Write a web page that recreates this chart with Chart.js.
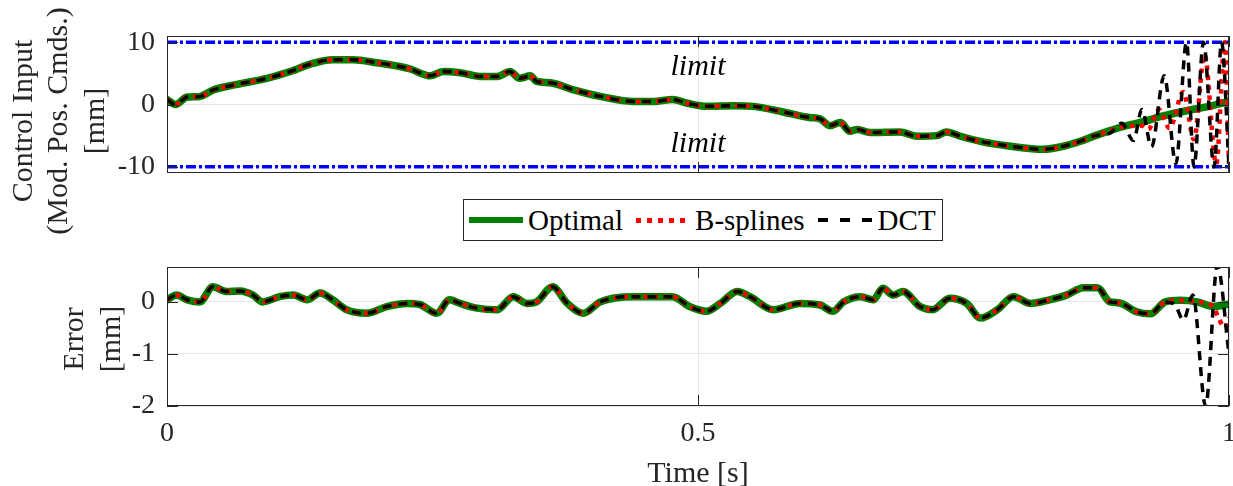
<!DOCTYPE html>
<html>
<head>
<meta charset="utf-8">
<script src="https://cdn.jsdelivr.net/npm/chart.js@4"></script>
<style>
body { margin: 0; background: #fff; width: 1233px; height: 486px; overflow: hidden; position: relative; font-family: "Liberation Serif", "Times New Roman", serif; }
canvas { position: absolute; left: 0; }
#topChart { top: 0; }
#errChart { top: 250px; }
#legend { position: absolute; left: 463px; top: 199px; width: 478px; height: 40px; border: 1px solid #262626; background: #fff; display: flex; align-items: center; font-size: 29px; color: #000; white-space: nowrap; }
.sw { height: 4px; flex: none; }
</style>
</head>
<body>
<canvas id="topChart" width="1233" height="250"></canvas>
<canvas id="errChart" width="1233" height="236"></canvas>
<div id="legend">
  <span class="sw" style="width:54px;height:6px;margin-left:5px;margin-right:5px;background:#008000"></span><span>Optimal</span>
  <span class="sw" style="width:50px;height:5px;margin-left:13px;margin-right:9px;background:repeating-linear-gradient(90deg,#ff0000 0 5px,transparent 5px 11px)"></span><span>B-splines</span>
  <span class="sw" style="width:55px;margin-left:13px;margin-right:5px;background:repeating-linear-gradient(90deg,#000 0 10px,transparent 10px 22px)"></span><span>DCT</span>
</div>
<script>
// axis ticks
const timeTicks = [0, 0.5, 1];
const topTicks = [-10, 0, 10];
const errTicks = [-2, -1, 0];

// actuator limits
const limitTime = [0, 1];
const upperLimit = [10, 10];
const lowerLimit = [-10, -10];

// control input [mm] - optimal
const tOpt = [0, 0.008, 0.019, 0.031, 0.043, 0.062, 0.094, 0.116, 0.137, 0.156, 0.175, 0.198, 0.219, 0.229, 0.248, 0.260, 0.276, 0.295, 0.311, 0.323, 0.332, 0.342, 0.348, 0.361, 0.382, 0.408, 0.439, 0.458, 0.476, 0.490, 0.508, 0.533, 0.552, 0.580, 0.605, 0.615, 0.624, 0.634, 0.643, 0.650, 0.662, 0.690, 0.706, 0.725, 0.734, 0.747, 0.768, 0.794, 0.825, 0.844, 0.860, 0.874, 0.888, 0.899, 0.918, 0.939, 0.960, 0.981, 1.000];
const uOpt = [0.8, 0.0, 1.2, 1.3, 2.3, 3.1, 4.2, 5.3, 6.6, 7.2, 7.2, 6.7, 6.1, 5.7, 4.6, 5.3, 5.1, 4.5, 4.5, 5.3, 4.2, 4.6, 3.7, 3.5, 2.4, 1.3, 0.5, 0.5, 0.8, 0.2, -0.3, -0.2, -0.3, -1.2, -2.1, -2.3, -3.4, -2.9, -4.3, -4.0, -4.5, -4.4, -5.1, -5.0, -4.4, -5.1, -6.0, -6.7, -7.2, -6.7, -5.9, -5.0, -4.2, -3.6, -2.8, -1.8, -1.0, -0.3, 0.5];

// control input - B-splines
const tBsp = [0, 0.008, 0.019, 0.031, 0.043, 0.062, 0.094, 0.116, 0.137, 0.156, 0.175, 0.198, 0.219, 0.229, 0.248, 0.260, 0.276, 0.295, 0.311, 0.323, 0.332, 0.342, 0.348, 0.361, 0.382, 0.408, 0.439, 0.458, 0.476, 0.490, 0.508, 0.533, 0.552, 0.580, 0.605, 0.615, 0.624, 0.634, 0.643, 0.650, 0.662, 0.690, 0.706, 0.725, 0.734, 0.747, 0.768, 0.794, 0.825, 0.844, 0.860, 0.874, 0.888, 0.899, 0.918, 0.924, 0.934, 0.944, 0.957, 0.967, 0.977, 0.988, 0.996, 1.000];
const uBsp = [0.8, 0.0, 1.2, 1.3, 2.3, 3.1, 4.2, 5.3, 6.6, 7.2, 7.2, 6.7, 6.1, 5.7, 4.6, 5.3, 5.1, 4.5, 4.5, 5.3, 4.2, 4.6, 3.7, 3.5, 2.4, 1.3, 0.5, 0.5, 0.8, 0.2, -0.3, -0.2, -0.3, -1.2, -2.1, -2.3, -3.4, -2.9, -4.3, -4.0, -4.5, -4.4, -5.1, -5.0, -4.4, -5.1, -6.0, -6.7, -7.2, -6.7, -5.9, -5.0, -4.2, -3.6, -3.4, -4.0, -0.8, -3.8, 2.0, -5.6, 8.0, -9.6, 10.0, -9.5];

// control input - DCT
const tDct = [0, 0.008, 0.019, 0.031, 0.043, 0.062, 0.094, 0.116, 0.137, 0.156, 0.175, 0.198, 0.219, 0.229, 0.248, 0.260, 0.276, 0.295, 0.311, 0.323, 0.332, 0.342, 0.348, 0.361, 0.382, 0.408, 0.439, 0.458, 0.476, 0.490, 0.508, 0.533, 0.552, 0.580, 0.605, 0.615, 0.624, 0.634, 0.643, 0.650, 0.662, 0.690, 0.706, 0.725, 0.734, 0.747, 0.768, 0.794, 0.825, 0.844, 0.860, 0.874, 0.888, 0.899, 0.910, 0.918, 0.927, 0.939, 0.950, 0.960, 0.967, 0.976, 0.986, 0.993, 1.000];
const uDct = [0.8, 0.0, 1.2, 1.3, 2.3, 3.1, 4.2, 5.3, 6.6, 7.2, 7.2, 6.7, 6.1, 5.7, 4.6, 5.3, 5.1, 4.5, 4.5, 5.3, 4.2, 4.6, 3.7, 3.5, 2.4, 1.3, 0.5, 0.5, 0.8, 0.2, -0.3, -0.2, -0.3, -1.2, -2.1, -2.3, -3.4, -2.9, -4.3, -4.0, -4.5, -4.4, -5.1, -5.0, -4.4, -5.1, -6.0, -6.7, -7.2, -6.7, -5.9, -5.0, -4.6, -3.0, -5.8, -0.8, -6.8, 4.6, -9.5, 10.0, -10.0, 10.0, -10.0, 10.0, -10.0];

// error [mm] - optimal
const tErrOpt = [0, 0.009, 0.019, 0.031, 0.043, 0.056, 0.069, 0.081, 0.090, 0.106, 0.119, 0.132, 0.144, 0.156, 0.169, 0.188, 0.207, 0.226, 0.238, 0.254, 0.266, 0.276, 0.292, 0.311, 0.326, 0.339, 0.348, 0.363, 0.377, 0.392, 0.408, 0.439, 0.455, 0.476, 0.492, 0.508, 0.521, 0.537, 0.549, 0.571, 0.596, 0.615, 0.627, 0.637, 0.653, 0.665, 0.674, 0.684, 0.693, 0.709, 0.721, 0.737, 0.753, 0.766, 0.782, 0.797, 0.813, 0.831, 0.847, 0.863, 0.876, 0.888, 0.897, 0.913, 0.926, 0.940, 0.954, 0.970, 0.985, 1.000];
const eOpt = [0.04, 0.13, 0.04, 0.0, 0.29, 0.2, 0.21, 0.13, 0.0, 0.1, 0.13, 0.04, 0.17, 0.04, -0.15, -0.22, -0.09, -0.03, -0.05, -0.22, 0.04, -0.03, -0.12, -0.15, 0.1, -0.03, 0.0, 0.29, -0.03, -0.22, 0.0, 0.1, 0.1, 0.1, -0.09, -0.18, -0.03, 0.2, 0.1, -0.15, -0.03, -0.06, -0.18, 0.0, 0.1, 0.04, 0.26, 0.13, 0.2, -0.09, -0.15, 0.07, -0.03, -0.31, -0.15, 0.1, -0.03, 0.04, 0.13, 0.27, 0.27, 0.0, -0.02, -0.19, -0.23, 0.0, 0.03, 0.0, -0.09, -0.04];

// error - B-splines
const tErrBsp = [0, 0.009, 0.019, 0.031, 0.043, 0.056, 0.069, 0.081, 0.090, 0.106, 0.119, 0.132, 0.144, 0.156, 0.169, 0.188, 0.207, 0.226, 0.238, 0.254, 0.266, 0.276, 0.292, 0.311, 0.326, 0.339, 0.348, 0.363, 0.377, 0.392, 0.408, 0.439, 0.455, 0.476, 0.492, 0.508, 0.521, 0.537, 0.549, 0.571, 0.596, 0.615, 0.627, 0.637, 0.653, 0.665, 0.674, 0.684, 0.693, 0.709, 0.721, 0.737, 0.753, 0.766, 0.782, 0.797, 0.813, 0.831, 0.847, 0.863, 0.876, 0.888, 0.897, 0.913, 0.926, 0.940, 0.954, 0.970, 0.985, 0.990, 0.996, 1.000];
const eBsp = [0.04, 0.13, 0.04, 0.0, 0.29, 0.2, 0.21, 0.13, 0.0, 0.1, 0.13, 0.04, 0.17, 0.04, -0.15, -0.22, -0.09, -0.03, -0.05, -0.22, 0.04, -0.03, -0.12, -0.15, 0.1, -0.03, 0.0, 0.29, -0.03, -0.22, 0.0, 0.1, 0.1, 0.1, -0.09, -0.18, -0.03, 0.2, 0.1, -0.15, -0.03, -0.06, -0.18, 0.0, 0.1, 0.04, 0.26, 0.13, 0.2, -0.09, -0.15, 0.07, -0.03, -0.31, -0.15, 0.1, -0.03, 0.04, 0.13, 0.27, 0.27, 0.0, -0.02, -0.19, -0.23, 0.0, 0.03, 0.0, -0.09, -0.3, -0.5, -0.3];

// error - DCT
const tErrDct = [0, 0.009, 0.019, 0.031, 0.043, 0.056, 0.069, 0.081, 0.090, 0.106, 0.119, 0.132, 0.144, 0.156, 0.169, 0.188, 0.207, 0.226, 0.238, 0.254, 0.266, 0.276, 0.292, 0.311, 0.326, 0.339, 0.348, 0.363, 0.377, 0.392, 0.408, 0.439, 0.455, 0.476, 0.492, 0.508, 0.521, 0.537, 0.549, 0.571, 0.596, 0.615, 0.627, 0.637, 0.653, 0.665, 0.674, 0.684, 0.693, 0.709, 0.721, 0.737, 0.753, 0.766, 0.782, 0.797, 0.813, 0.831, 0.847, 0.863, 0.876, 0.888, 0.897, 0.913, 0.926, 0.940, 0.949, 0.957, 0.966, 0.978, 0.989, 1.000];
const eDct = [0.04, 0.13, 0.04, 0.0, 0.29, 0.2, 0.21, 0.13, 0.0, 0.1, 0.13, 0.04, 0.17, 0.04, -0.15, -0.22, -0.09, -0.03, -0.05, -0.22, 0.04, -0.03, -0.12, -0.15, 0.1, -0.03, 0.0, 0.29, -0.03, -0.22, 0.0, 0.1, 0.1, 0.1, -0.09, -0.18, -0.03, 0.2, 0.1, -0.15, -0.03, -0.06, -0.18, 0.0, 0.1, 0.04, 0.26, 0.13, 0.2, -0.09, -0.15, 0.07, -0.03, -0.31, -0.15, 0.1, -0.03, 0.04, 0.13, 0.27, 0.27, 0.0, -0.02, -0.19, -0.23, 0.0, -0.05, -0.35, 0.13, -2.0, 0.7, -1.0];


const FONT = "'Liberation Serif', 'Times New Roman', serif";
const INK = "#262626";

function pts(t, v) {
  return t.map((x, i) => ({ x: x, y: v[i] }));
}

function series(t, v, style) {
  return Object.assign({
    data: pts(t, v),
    pointRadius: 0,
    fill: false,
    cubicInterpolationMode: "monotone",
    borderCapStyle: "butt",
    borderJoinStyle: "round"
  }, style);
}

const optStyle = { borderColor: "#008000", borderWidth: 7.5, borderCapStyle: "round", order: 2 };
const bspStyle = { borderColor: "#ff0000", borderWidth: 4.5, borderDash: [4.5, 5.5], order: 1 };
const dctStyle = { borderColor: "#000000", borderWidth: 3.5, borderDash: [9, 7], order: 0 };
const limStyle = { borderColor: "#0000ff", borderWidth: 3.5, borderDash: [10, 3, 3, 3], order: 3, cubicInterpolationMode: "default", tension: 0 };

// box round the axes with inward ticks, matlab style
const framePlugin = {
  id: "frame",
  afterDraw(chart) {
    const { ctx, chartArea: a, scales } = chart;
    ctx.save();
    ctx.strokeStyle = INK;
    ctx.lineWidth = 1;
    ctx.setLineDash([]);
    ctx.strokeRect(a.left + 0.5, a.top + 0.5, a.right - a.left - 1, a.bottom - a.top - 1);
    ctx.beginPath();
    scales.x.ticks.forEach(t => {
      const px = Math.round(scales.x.getPixelForValue(t.value)) + 0.5;
      ctx.moveTo(px, a.bottom); ctx.lineTo(px, a.bottom - 11);
      ctx.moveTo(px, a.top); ctx.lineTo(px, a.top + 11);
    });
    scales.y.ticks.forEach(t => {
      const py = Math.round(scales.y.getPixelForValue(t.value)) + 0.5;
      ctx.moveTo(a.left, py); ctx.lineTo(a.left + 11, py);
      ctx.moveTo(a.right, py); ctx.lineTo(a.right - 11, py);
    });
    ctx.stroke();
    ctx.restore();
  }
};

// rotated y labels and text notes
const textPlugin = {
  id: "notes",
  afterDraw(chart, args, opts) {
    const ctx = chart.ctx;
    ctx.save();
    ctx.fillStyle = INK;
    ctx.textAlign = "center";
    ctx.textBaseline = "alphabetic";
    ctx.font = "30px " + FONT;
    (opts.ylabel || []).forEach((line, i) => {
      ctx.save();
      ctx.translate(opts.ylabelX[i], opts.ylabelY);
      ctx.rotate(-Math.PI / 2);
      ctx.fillText(line, 0, 0);
      ctx.restore();
    });
    ctx.fillStyle = "#000";
    ctx.font = "italic 30px " + FONT;
    (opts.notes || []).forEach(n => {
      ctx.fillText(n.text, chart.scales.x.getPixelForValue(n.x), chart.scales.y.getPixelForValue(n.y));
    });
    ctx.restore();
  }
};

function baseOptions(yMin, yMax, yTicks, showX) {
  return {
    responsive: false,
    animation: false,
    events: [],
    plugins: { legend: { display: false }, tooltip: { enabled: false } },
    scales: {
      x: {
        type: "linear", min: 0, max: 1,
        afterBuildTicks: s => { s.ticks = timeTicks.map(v => ({ value: v })); },
        afterFit: s => { s.height = showX ? 80 : 0; s.paddingLeft = 0; s.paddingRight = 0; },
        grid: { color: "#e6e6e6", lineWidth: 1, drawTicks: false },
        border: { display: false },
        ticks: { display: showX, padding: 11, color: INK, font: { family: FONT, size: 28 }, callback: v => String(v) },
        title: { display: showX, text: "Time [s]", color: INK, font: { family: FONT, size: 30, lineHeight: 0.8 }, padding: 0 }
      },
      y: {
        min: yMin, max: yMax,
        afterBuildTicks: s => { s.ticks = yTicks.map(v => ({ value: v })); },
        afterFit: s => { s.width = 167; s.paddingTop = 0; s.paddingBottom = 0; },
        grid: { color: "#e6e6e6", lineWidth: 1, drawTicks: false },
        border: { display: false },
        ticks: { padding: 12, color: INK, font: { family: FONT, size: 28 }, callback: v => String(v) }
      }
    }
  };
}

// control input plot
const topOpts = baseOptions(-11, 11, topTicks, false);
topOpts.layout = { padding: { left: 0, right: 4, top: 36, bottom: 77 } };
topOpts.plugins.notes = {
  ylabel: ["Control Input", "(Mod. Pos. Cmds.)", "[mm]"],
  ylabelX: [32, 67, 104],
  ylabelY: 121,
  notes: [{ text: "limit", x: 0.5, y: 4.7 }, { text: "limit", x: 0.5, y: -7.6 }]
};

new Chart(document.getElementById("topChart"), {
  type: "line",
  data: {
    datasets: [
      series(limitTime, upperLimit, limStyle),
      series(limitTime, lowerLimit, limStyle),
      series(tOpt, uOpt, optStyle),
      series(tBsp, uBsp, bspStyle),
      series(tDct, uDct, dctStyle)
    ]
  },
  options: topOpts,
  plugins: [framePlugin, textPlugin]
});

// error plot
const errOpts = baseOptions(-2, 0.67, errTicks, true);
errOpts.layout = { padding: { left: 0, right: 4, top: 17, bottom: 0 } };
errOpts.plugins.notes = {
  ylabel: ["Error", "[mm]"],
  ylabelX: [83, 120],
  ylabelY: 89
};

new Chart(document.getElementById("errChart"), {
  type: "line",
  data: {
    datasets: [
      series(tErrOpt, eOpt, optStyle),
      series(tErrBsp, eBsp, bspStyle),
      series(tErrDct, eDct, dctStyle)
    ]
  },
  options: errOpts,
  plugins: [framePlugin, textPlugin]
});
</script>
</body>
</html>
